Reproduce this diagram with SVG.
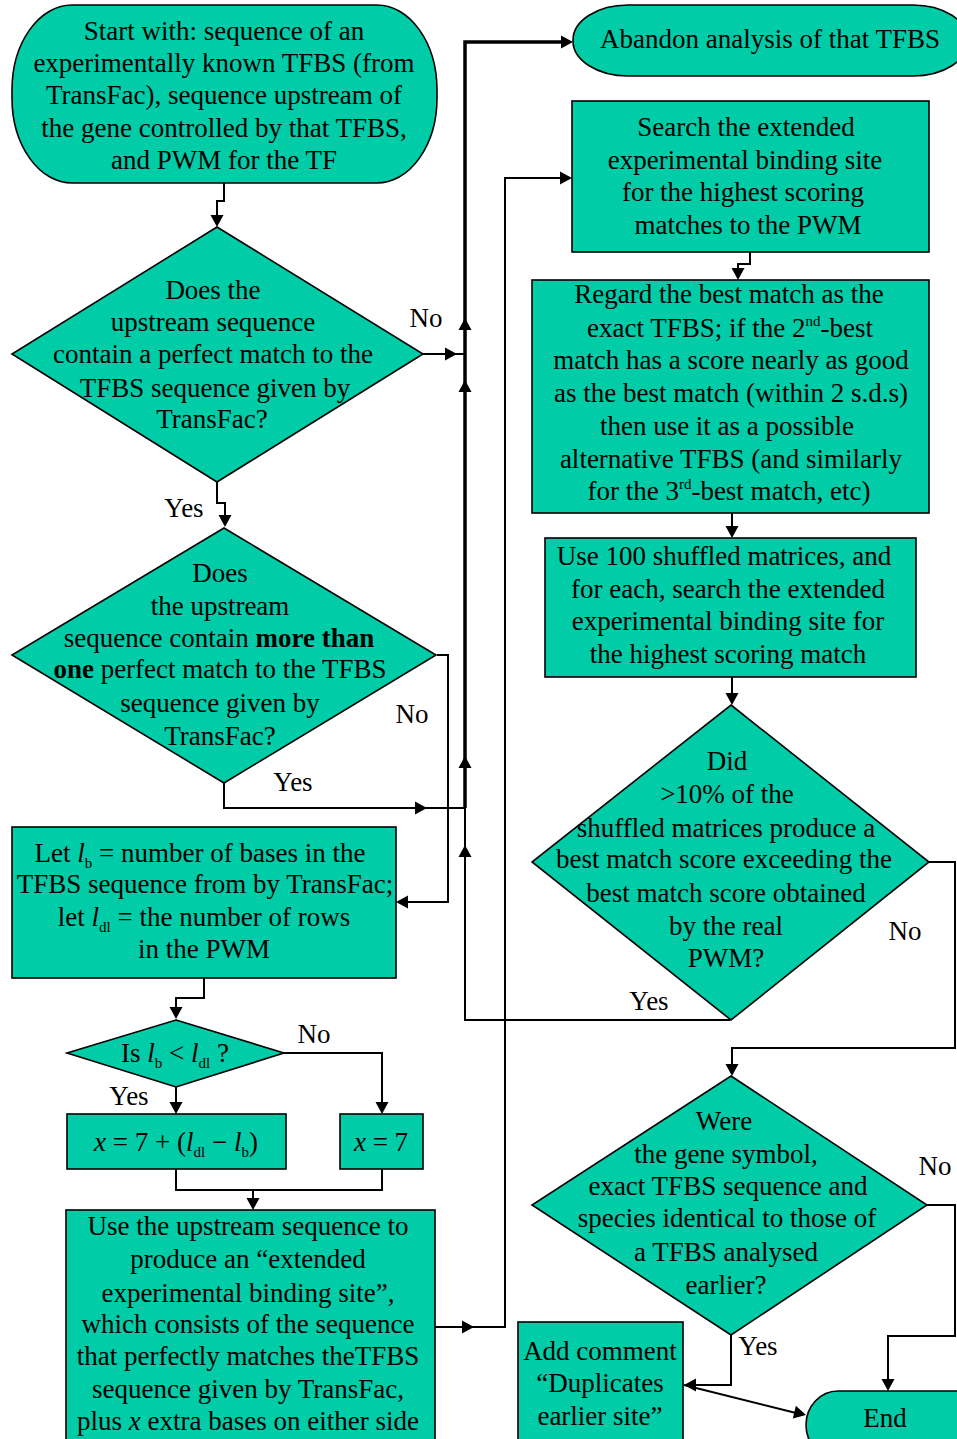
<svg xmlns="http://www.w3.org/2000/svg" width="957" height="1439" viewBox="0 0 957 1439">
  <style>
    .node { fill: #00CCA8; stroke: #000; stroke-width: 1.6; }
    .t { font-family: "Liberation Serif", "Times New Roman", serif; font-size: 27px; fill: #000; text-anchor: middle; }
    .lbl { font-family: "Liberation Serif", "Times New Roman", serif; font-size: 27px; fill: #000; text-anchor: middle; }
    .b { font-weight: bold; }
    .i { font-style: italic; }
    .wire { fill: none; stroke: #000; stroke-width: 2; }
    .trunk { fill: none; stroke: #000; stroke-width: 3.5; }
    .ah { fill: #000; }
  </style>
  <defs>
    <!-- filled arrowhead, tip at origin, pointing along +x -->
    <path id="ah" d="M0,0 L-12,-6.5 L-12,6.5 Z"/>
  </defs>
  <rect width="957" height="1439" fill="#fff"/>

  <!-- connectors -->
  <g id="connectors">
    <polyline class="wire" points="224,183 224,201 217,201 217,222"/>
    <use href="#ah" class="ah" transform="translate(217,227) rotate(90)"/>

    <polyline class="wire" points="423,354 465,354"/>
    <use href="#ah" class="ah" transform="translate(457,354)"/>

    <polyline class="trunk" points="465,808 465,42 566,42"/>
    <use href="#ah" class="ah" transform="translate(573,42)"/>
    <use href="#ah" class="ah" transform="translate(465,318) rotate(-90)"/>
    <use href="#ah" class="ah" transform="translate(465,380) rotate(-90)"/>
    <use href="#ah" class="ah" transform="translate(465,756) rotate(-90)"/>

    <polyline class="wire" points="217,482 217,503 225,503 225,522"/>
    <use href="#ah" class="ah" transform="translate(225,527) rotate(90)"/>

    <polyline class="wire" points="224,783 224,808 465,808"/>
    <use href="#ah" class="ah" transform="translate(427,808)"/>

    <polyline class="wire" points="437,655 448,655 448,902 400,902"/>
    <use href="#ah" class="ah" transform="translate(396,902) rotate(180)"/>

    <polyline class="wire" points="204,978 204,998 176,998 176,1014"/>
    <use href="#ah" class="ah" transform="translate(176,1019) rotate(90)"/>

    <polyline class="wire" points="284,1053 382,1053 382,1108"/>
    <use href="#ah" class="ah" transform="translate(382,1114) rotate(90)"/>

    <polyline class="wire" points="176,1087 176,1108"/>
    <use href="#ah" class="ah" transform="translate(176,1114) rotate(90)"/>

    <polyline class="wire" points="176,1169 176,1190 382,1190 382,1169"/>
    <polyline class="wire" points="253,1190 253,1205"/>
    <use href="#ah" class="ah" transform="translate(253,1210) rotate(90)"/>

    <polyline class="wire" points="435,1327 505,1327 505,178 566,178"/>
    <use href="#ah" class="ah" transform="translate(474,1327)"/>
    <use href="#ah" class="ah" transform="translate(572,178)"/>

    <polyline class="wire" points="750,252 750,264 738,264 738,274"/>
    <use href="#ah" class="ah" transform="translate(738,280) rotate(90)"/>

    <polyline class="wire" points="732,513 732,532"/>
    <use href="#ah" class="ah" transform="translate(732,538) rotate(90)"/>

    <polyline class="wire" points="732,677 732,700"/>
    <use href="#ah" class="ah" transform="translate(732,705) rotate(90)"/>

    <polyline class="wire" points="730,1020 465,1020 465,808"/>
    <use href="#ah" class="ah" transform="translate(465,845) rotate(-90)"/>

    <polyline class="wire" points="928,862 955,862 955,1048 732,1048 732,1070"/>
    <use href="#ah" class="ah" transform="translate(732,1076) rotate(90)"/>

    <polyline class="wire" points="927,1205 955,1205 955,1336 888,1336 888,1385"/>
    <use href="#ah" class="ah" transform="translate(888,1391) rotate(90)"/>

    <polyline class="wire" points="731,1335 731,1385 690,1385"/>
    <use href="#ah" class="ah" transform="translate(684,1385) rotate(180)"/>

    <polyline class="wire" points="684,1385 800,1414"/>
    <use href="#ah" class="ah" transform="translate(806,1415) rotate(13.7)"/>
  </g>

  <!-- labels on branches -->
  <g id="branch-labels">
    <text class="lbl" x="426" y="327">No</text>
    <text class="lbl" x="184" y="517">Yes</text>
    <text class="lbl" x="412" y="723">No</text>
    <text class="lbl" x="293" y="791">Yes</text>
    <text class="lbl" x="314" y="1043">No</text>
    <text class="lbl" x="129" y="1105">Yes</text>
    <text class="lbl" x="905" y="940">No</text>
    <text class="lbl" x="649" y="1010">Yes</text>
    <text class="lbl" x="935" y="1175">No</text>
    <text class="lbl" x="758" y="1355">Yes</text>
  </g>

  <g id="start">
    <rect class="node" x="12" y="5" width="425" height="178" rx="60" ry="85"/>
    <text class="t" x="224" y="40">Start with: sequence of an</text>
    <text class="t" x="224" y="72">experimentally known TFBS (from</text>
    <text class="t" x="224" y="104">TransFac), sequence upstream of</text>
    <text class="t" x="224" y="137">the gene controlled by that TFBS,</text>
    <text class="t" x="224" y="169">and PWM for the TF</text>
  </g>

  <g id="perfect-match">
    <polygon class="node" points="217,227 423,354 217,482 12,354"/>
    <text class="t" x="213" y="299">Does the</text>
    <text class="t" x="213" y="331">upstream sequence</text>
    <text class="t" x="213" y="363">contain a perfect match to the</text>
    <text class="t" x="215" y="397">TFBS sequence given by</text>
    <text class="t" x="212" y="428">TransFac?</text>
  </g>

  <g id="multiple-match">
    <polygon class="node" points="224,528 436,655 224,783 12,655"/>
    <text class="t" x="220" y="582">Does</text>
    <text class="t" x="220" y="615">the upstream</text>
    <text class="t" x="219" y="647">sequence contain <tspan class="b">more than</tspan></text>
    <text class="t" x="220" y="678"><tspan class="b">one</tspan> perfect match to the TFBS</text>
    <text class="t" x="220" y="712">sequence given by</text>
    <text class="t" x="220" y="745">TransFac?</text>
  </g>

  <g id="lengths">
    <rect class="node" x="12" y="827" width="384" height="151"/>
    <text class="t" x="200" y="862">Let <tspan class="i">l</tspan><tspan font-size="15" dy="6">b</tspan><tspan dy="-6"> =  number of bases in the</tspan></text>
    <text class="t" x="205" y="893">TFBS sequence from by TransFac;</text>
    <text class="t" x="204" y="926">let <tspan class="i">l</tspan><tspan font-size="15" dy="6">dl</tspan><tspan dy="-6"> = the number of rows</tspan></text>
    <text class="t" x="204" y="958">in the PWM</text>
  </g>

  <g id="compare-lengths">
    <polygon class="node" points="176,1020 284,1053 176,1087 67,1053"/>
    <text class="t" x="175" y="1062">Is <tspan class="i">l</tspan><tspan font-size="15" dy="6">b</tspan><tspan dy="-6"> &lt; </tspan><tspan class="i">l</tspan><tspan font-size="15" dy="6">dl</tspan><tspan dy="-6"> ?</tspan></text>
  </g>

  <g id="x-extended">
    <rect class="node" x="67" y="1114" width="219" height="55"/>
    <text class="t" x="176" y="1151"><tspan class="i">x</tspan> = 7 + (<tspan class="i">l</tspan><tspan font-size="15" dy="6">dl</tspan><tspan dy="-6"> − </tspan><tspan class="i">l</tspan><tspan font-size="15" dy="6">b</tspan><tspan dy="-6">)</tspan></text>
  </g>

  <g id="x-seven">
    <rect class="node" x="340" y="1114" width="83" height="55"/>
    <text class="t" x="381" y="1151"><tspan class="i">x</tspan> = 7</text>
  </g>

  <g id="extended-site">
    <rect class="node" x="66" y="1210" width="369" height="240"/>
    <text class="t" x="248" y="1235">Use the upstream sequence to</text>
    <text class="t" x="248" y="1268">produce an “extended</text>
    <text class="t" x="248" y="1302">experimental binding site”,</text>
    <text class="t" x="248" y="1333">which consists of the sequence</text>
    <text class="t" x="248" y="1365">that perfectly matches theTFBS</text>
    <text class="t" x="248" y="1398">sequence given by TransFac,</text>
    <text class="t" x="248" y="1430">plus <tspan class="i">x</tspan> extra bases on either side</text>
  </g>

  <g id="abandon">
    <rect class="node" x="573" y="5" width="395" height="71" rx="55" ry="35"/>
    <text class="t" x="770" y="48">Abandon analysis of that TFBS</text>
  </g>

  <g id="search">
    <rect class="node" x="572" y="101" width="357" height="151"/>
    <text class="t" x="746" y="136">Search the extended</text>
    <text class="t" x="745" y="169">experimental binding site</text>
    <text class="t" x="743" y="201">for the highest scoring</text>
    <text class="t" x="748" y="234">matches to the PWM</text>
  </g>

  <g id="regard-best">
    <rect class="node" x="532" y="280" width="397" height="233"/>
    <text class="t" x="729" y="303">Regard the best match as the</text>
    <text class="t" x="730" y="337">exact TFBS; if the 2<tspan font-size="15" dy="-11">nd</tspan><tspan dy="11">-best</tspan></text>
    <text class="t" x="731" y="369">match has a score nearly as good</text>
    <text class="t" x="731" y="402">as the best  match (within 2 s.d.s)</text>
    <text class="t" x="727" y="435">then use it as a  possible</text>
    <text class="t" x="731" y="468">alternative TFBS (and similarly</text>
    <text class="t" x="729" y="500">for the 3<tspan font-size="15" dy="-11">rd</tspan><tspan dy="11">-best match, etc)</tspan></text>
  </g>

  <g id="shuffled">
    <rect class="node" x="545" y="538" width="371" height="139"/>
    <text class="t" x="724" y="565">Use 100 shuffled matrices, and</text>
    <text class="t" x="728" y="598">for each, search the extended</text>
    <text class="t" x="728" y="630">experimental binding site for</text>
    <text class="t" x="728" y="663">the highest scoring match</text>
  </g>

  <g id="shuffled-test">
    <polygon class="node" points="731,705 929,862 731,1020 532,862"/>
    <text class="t" x="727" y="770">Did</text>
    <text class="t" x="727" y="803">&gt;10% of the</text>
    <text class="t" x="726" y="837">shuffled matrices produce a</text>
    <text class="t" x="724" y="868">best  match score exceeding the</text>
    <text class="t" x="726" y="902">best  match score obtained</text>
    <text class="t" x="726" y="935">by the real</text>
    <text class="t" x="726" y="967">PWM?</text>
  </g>

  <g id="duplicate-test">
    <polygon class="node" points="731,1076 927,1205 731,1335 532,1205"/>
    <text class="t" x="724" y="1130">Were</text>
    <text class="t" x="726" y="1163">the gene symbol,</text>
    <text class="t" x="728" y="1195">exact TFBS sequence and</text>
    <text class="t" x="727" y="1227">species identical to those of</text>
    <text class="t" x="726" y="1261">a TFBS analysed</text>
    <text class="t" x="726" y="1294">earlier?</text>
  </g>

  <g id="add-comment">
    <rect class="node" x="518" y="1322" width="165" height="130"/>
    <text class="t" x="600" y="1360">Add comment</text>
    <text class="t" x="600" y="1392">“Duplicates</text>
    <text class="t" x="600" y="1425">earlier site”</text>
  </g>

  <g id="end">
    <rect class="node" x="806" y="1391" width="220" height="68" rx="32" ry="34"/>
    <text class="t" x="885" y="1427">End</text>
  </g>
</svg>
